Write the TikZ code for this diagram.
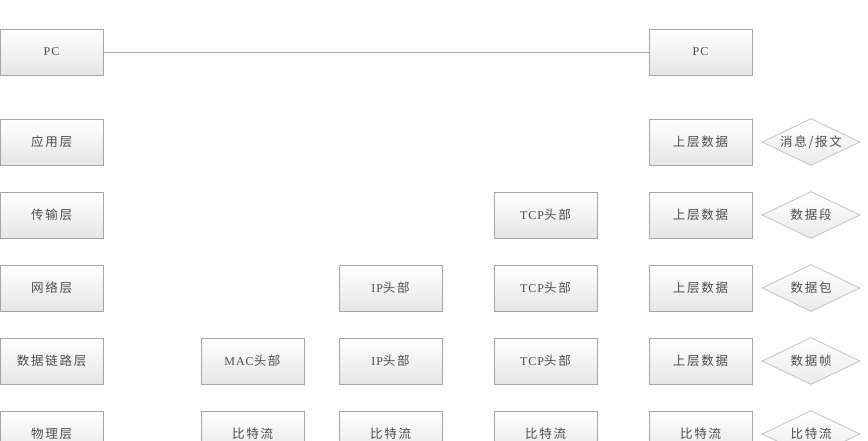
\documentclass[tikz,border=0pt]{standalone}
\usepackage{fontspec}
\setmainfont{Liberation Serif}
\newfontfamily\cjk[LetterSpace=14]{Noto Sans CJK SC}
\newfontfamily\lat[LetterSpace=8]{Liberation Serif}
\usetikzlibrary{shapes.geometric}
\definecolor{bordc}{HTML}{A6A6A6}
\definecolor{txtc}{HTML}{4D4D4D}
\definecolor{linec}{HTML}{B0B0B0}
\newcommand{\lt}[1]{{\lat\fontsize{12}{14}\selectfont #1}}
\begin{document}
\begin{tikzpicture}[x=1pt,y=-1pt,
  lay/.style={draw=bordc,line width=0.9pt,top color=white,bottom color=black!10,
    minimum width=103pt,minimum height=46pt,inner sep=0pt,text=txtc,
    font=\fontsize{12.5}{14}\selectfont\cjk,
    preaction={fill=black!22,transform canvas={shift={(1.2pt,-1.2pt)}}}},
  dia/.style={diamond,draw=black!22,line width=0.9pt,top color=white,bottom color=black!8,
    minimum width=98pt,minimum height=47pt,inner sep=0pt,aspect=2.1,text=txtc,
    font=\fontsize{12.5}{14}\selectfont\cjk},
  conn/.style={draw=linec,line width=0.9pt}]
\useasboundingbox (0,0) rectangle (868,440);
% left column
\node[lay] (pcl) at (51.5,52) {\lt{PC}};
\node[lay] (app) at (51.5,142) {应用层};
\node[lay] (tra) at (51.5,215) {传输层};
\node[lay] (net) at (51.5,288) {网络层};
\node[lay] (lnk) at (51.5,361) {数据链路层};
\node[lay] (phy) at (51.5,434) {物理层};
% MAC column
\node[lay] (mac) at (252.5,361) {\lt{MAC}头部};
\node[lay] (bit1) at (252.5,434) {比特流};
% IP column
\node[lay] (ip1) at (390.5,288) {\lt{IP}头部};
\node[lay] (ip2) at (390.5,361) {\lt{IP}头部};
\node[lay] (bit2) at (390.5,434) {比特流};
% TCP column
\node[lay] (tcp1) at (545.5,215) {\lt{TCP}头部};
\node[lay] (tcp2) at (545.5,288) {\lt{TCP}头部};
\node[lay] (tcp3) at (545.5,361) {\lt{TCP}头部};
\node[lay] (bit3) at (545.5,434) {比特流};
% upper data column
\node[lay] (pcr) at (700.5,52) {\lt{PC}};
\node[lay] (up1) at (700.5,142) {上层数据};
\node[lay] (up2) at (700.5,215) {上层数据};
\node[lay] (up3) at (700.5,288) {上层数据};
\node[lay] (up4) at (700.5,361) {上层数据};
\node[lay] (bit4) at (700.5,434) {比特流};
% diamonds
\node[dia] (d1) at (811,142) {消息/报文};
\node[dia] (d2) at (811,215) {数据段};
\node[dia] (d3) at (811,288) {数据包};
\node[dia] (d4) at (811,361) {数据帧};
\node[dia] (d5) at (811,434) {比特流};
% connector
\draw[conn] (pcl.east) -- (pcr.west);
\end{tikzpicture}
\end{document}
